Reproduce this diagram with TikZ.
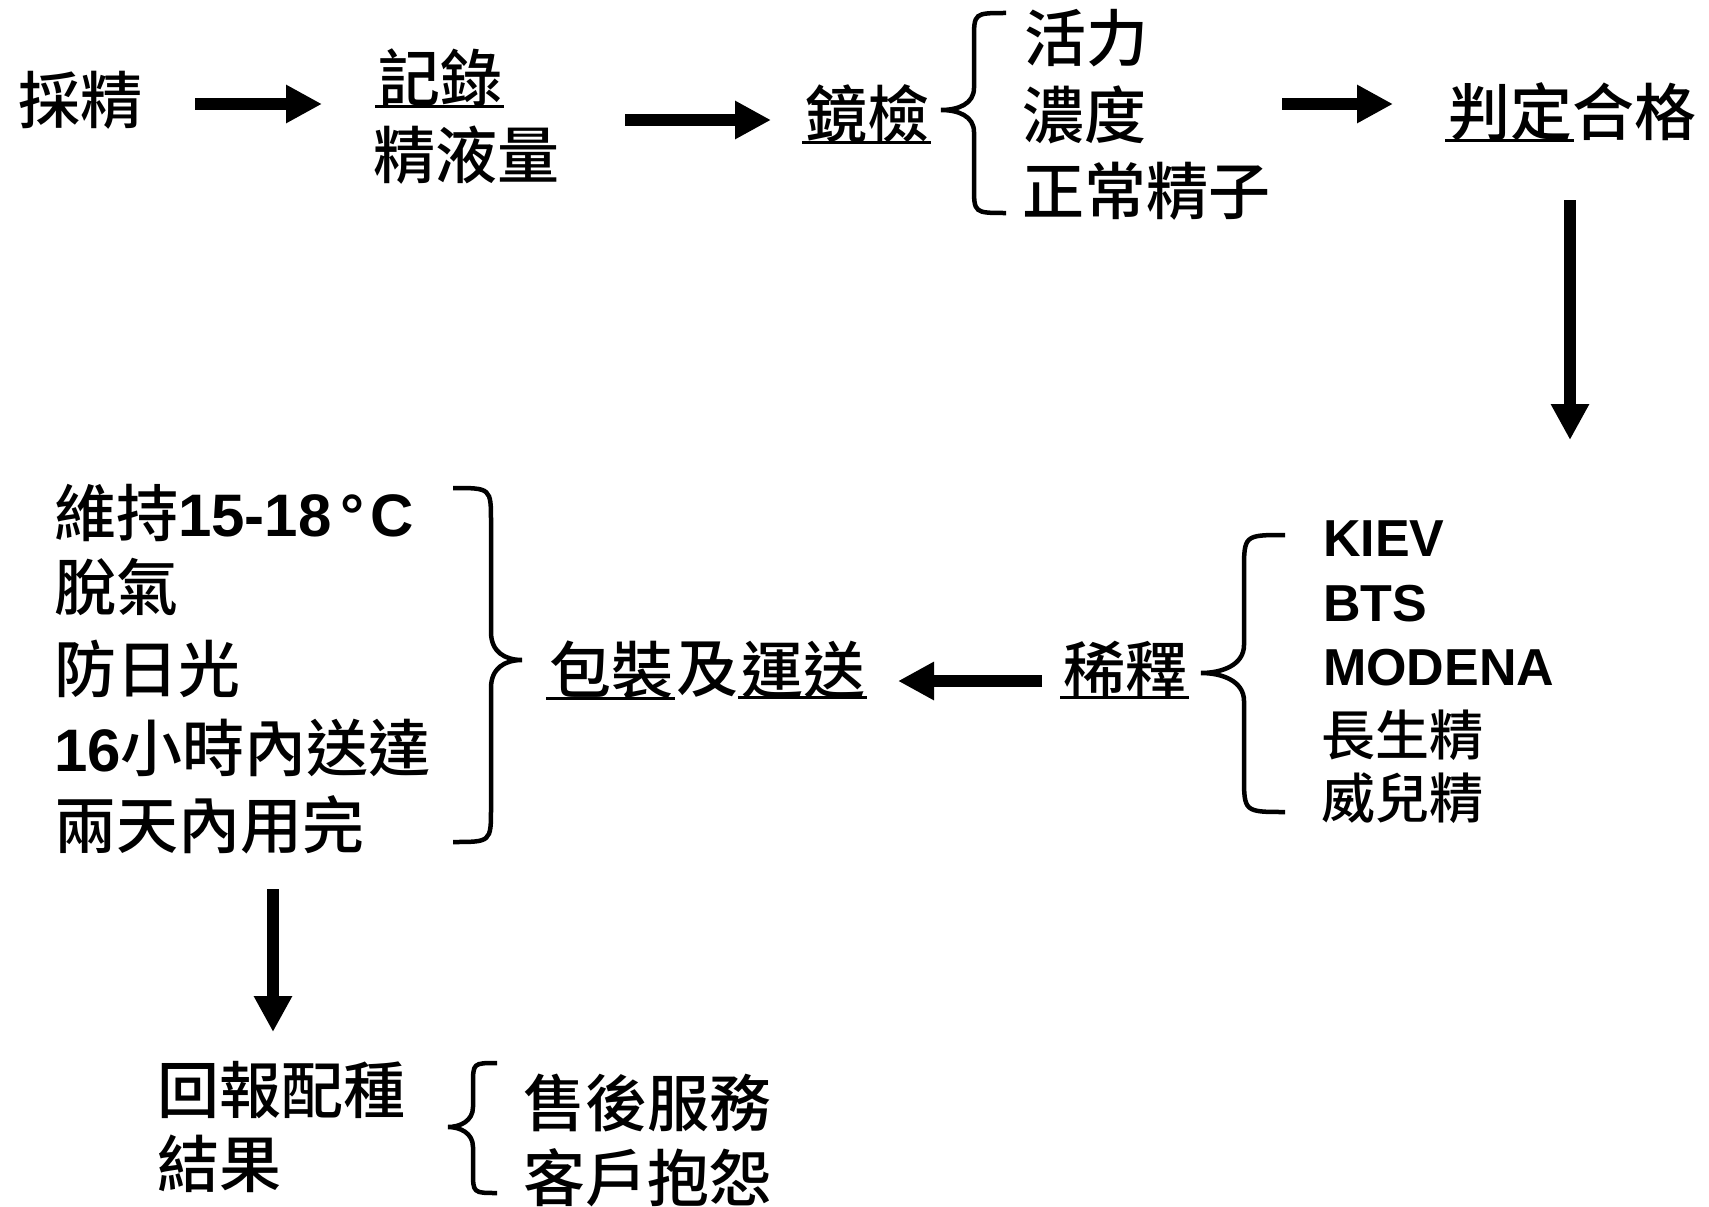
\documentclass[tikz,border=0pt]{standalone}
\usepackage{fontspec}
\newfontfamily\cjk{Noto Sans CJK TC Medium}
\newfontfamily\lat{Liberation Sans}
\usetikzlibrary{arrows.meta}
\newcommand{\latx}[1]{{\lat\bfseries\fontsize{60}{70}\selectfont#1}}
\tikzset{
  cj/.style={inner sep=0pt, outer sep=0pt, anchor=west, font=\cjk\fontsize{62}{74}\selectfont},
  cjs/.style={inner sep=0pt, outer sep=0pt, anchor=west, font=\cjk\fontsize{54}{64}\selectfont},
  la/.style={inner sep=0pt, outer sep=0pt, anchor=west, font=\lat\bfseries\fontsize{52}{62}\selectfont},
  blk/.style={line width=12pt, -{Triangle[length=36pt,width=36pt]}},
  ul/.style={line width=3pt},
  brc/.style={line width=4.5pt}
}
\begin{document}
\begin{tikzpicture}[x=1pt,y=-1pt]
\useasboundingbox[fill=white] (0,0) rectangle (1709,1207);

% top row
\node[cj] (caijing) at (19,100) {採精};
\node[cj] (jilu) at (378,78) {記錄};
\node[cj] (jingye) at (373,155) {精液量};
\node[cj] (jingjian) at (805,114) {鏡檢};
\node[cj] (huoli) at (1024,38) {活力};
\node[cj] (nongdu) at (1022,115) {濃度};
\node[cj] (zhengchang) at (1022,191) {正常精子};
\node[cj] (panding) at (1448,112) {判定};
\node[cj] (hege) at (panding.east) {合格};

% right column
\node[cj] (xishi) at (1063,670) {稀釋};
\node[la] (kiev) at (1323,539) {KIEV};
\node[la] (bts) at (1323,604) {BTS};
\node[la] (modena) at (1323,668) {MODENA};
\node[cjs] (changsheng) at (1321,735) {長生精};
\node[cjs] (weier) at (1321,798) {威兒精};

% middle
\node[cj] (baozhuang) at (549,670) {包裝};
\node[cj] (ji) at ([xshift=3pt]baozhuang.east) {及};
\node[cj] (yunsong) at ([xshift=3pt]ji.east) {運送};

% left list
\node[cj] (weichi) at (54,513) {維持\latx{15-18\kern9pt°\kern6pt C}};
\node[cj] (tuoqi) at (54,587) {脫氣};
\node[cj] (fang) at (54,669) {防日光};
\node[cj] (songda) at (54,748) {\latx{16}小時內送達};
\node[cj] (yongwan) at (54,825) {兩天內用完};

% bottom
\node[cj] (huibao) at (157,1090) {回報配種};
\node[cj] (jieguo) at (157,1164) {結果};
\node[cj] (shouhou) at (523,1103) {售後服務};
\node[cj] (kehu) at (523,1178) {客戶抱怨};

% underlines
\draw[ul] ([xshift=-3pt,yshift=1pt]jilu.south west) -- ([xshift=2pt,yshift=1pt]jilu.south east);
\draw[ul] ([xshift=-3pt,yshift=1pt]jingjian.south west) -- ([xshift=2pt,yshift=1pt]jingjian.south east);
\draw[ul] ([xshift=-3pt,yshift=1pt]panding.south west) -- ([xshift=2pt,yshift=1pt]panding.south east);
\draw[ul] ([xshift=-3pt,yshift=1pt]xishi.south west) -- ([xshift=2pt,yshift=1pt]xishi.south east);
\draw[ul] ([xshift=-3pt,yshift=1pt]baozhuang.south west) -- ([xshift=2pt,yshift=1pt]baozhuang.south east);
\draw[ul] ([xshift=-3pt,yshift=1pt]yunsong.south west) -- ([xshift=2pt,yshift=1pt]yunsong.south east);

% arrow end points
\coordinate (a1s) at (195,104); \coordinate (a1e) at (322,104);
\coordinate (a2s) at (625,120); \coordinate (a2e) at (771,120);
\coordinate (a3s) at (1282,104); \coordinate (a3e) at (1393,104);
\coordinate (a4s) at (1570,200); \coordinate (a4e) at (1570,440);
\coordinate (a5s) at (1042,681); \coordinate (a5e) at (898,681);
\coordinate (a6s) at (273,889); \coordinate (a6e) at (273,1032);

\draw[blk] (a1s) -- (a1e);
\draw[blk] (a2s) -- (a2e);
\draw[blk] (a3s) -- (a3e);
\draw[blk] (a4s) -- (a4e);
\draw[blk] (a5s) -- (a5e);
\draw[blk] (a6s) -- (a6e);

% braces
\draw[brc] (1006,13) .. controls (974,13) .. (974,40) -- (974,88)
  .. controls (974,104) and (958,110) .. (941,110)
  .. controls (958,110) and (974,116) .. (974,132) -- (974,186)
  .. controls (974,213) .. (1006,213);
\draw[brc] (1285,535) .. controls (1244,535) .. (1244,572) -- (1244,645)
  .. controls (1244,665) and (1222,673) .. (1201,673)
  .. controls (1222,673) and (1244,681) .. (1244,701) -- (1244,775)
  .. controls (1244,812) .. (1285,812);
\draw[brc] (453,488) .. controls (491,488) .. (491,522) -- (491,632)
  .. controls (491,652) and (505,660) .. (522,660)
  .. controls (505,660) and (491,668) .. (491,688) -- (491,808)
  .. controls (491,842) .. (453,842);
\draw[brc] (497,1063) .. controls (473,1063) .. (473,1085) -- (473,1107)
  .. controls (473,1121) and (460,1127) .. (448,1127)
  .. controls (460,1127) and (473,1133) .. (473,1147) -- (473,1171)
  .. controls (473,1193) .. (497,1193);
\end{tikzpicture}
\end{document}
